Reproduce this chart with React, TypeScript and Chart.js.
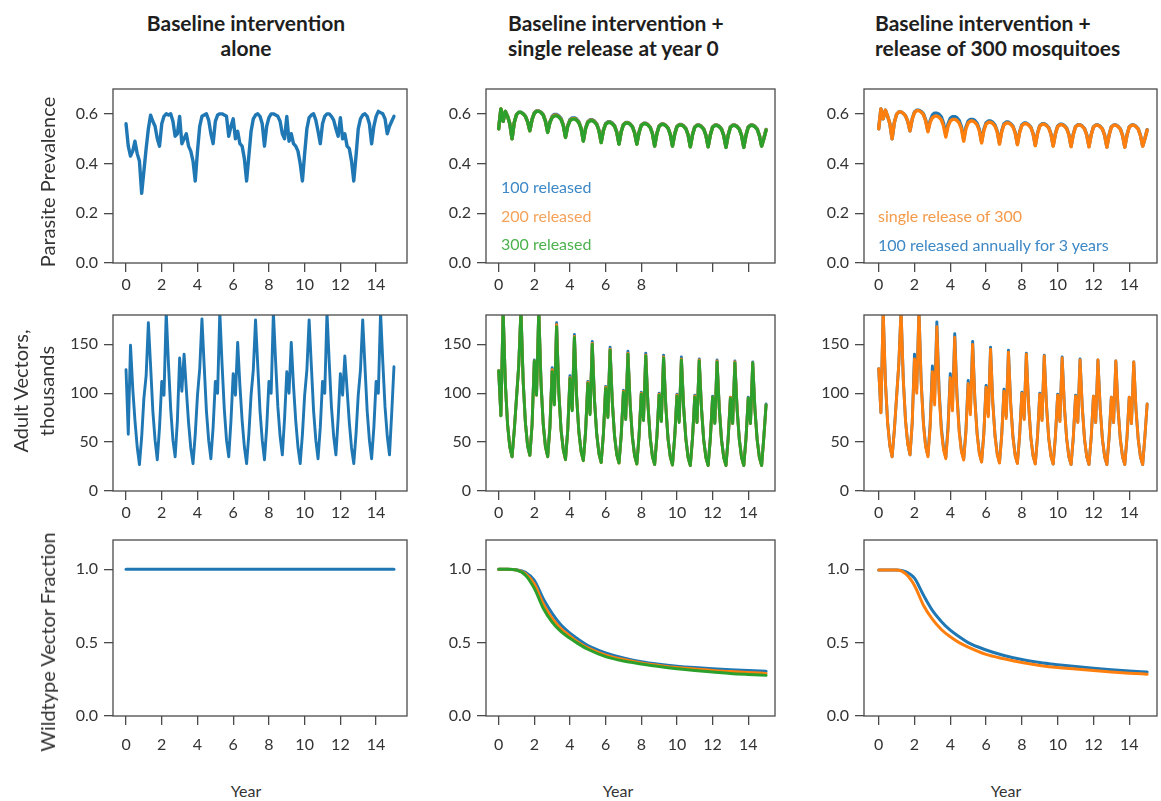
import React, { useEffect, useRef } from "react";
import { Chart, registerables } from "chart.js";

Chart.register(...registerables);

const BLUE = "#1f77b4";
const ORANGE = "#ff7f0e";
const GREEN = "#2ca02c";
const FRAME = "#4a4a4a";
const TEXT = "#333333";
const FONT = "Lato, 'Open Sans', sans-serif";

// ---------- categories / ticks ----------
const years = [
  0, 0.125, 0.25, 0.375, 0.5, 0.625, 0.75, 0.875,
  1, 1.125, 1.25, 1.375, 1.5, 1.625, 1.75, 1.875,
  2, 2.125, 2.25, 2.375, 2.5, 2.625, 2.75, 2.875,
  3, 3.125, 3.25, 3.375, 3.5, 3.625, 3.75, 3.875,
  4, 4.125, 4.25, 4.375, 4.5, 4.625, 4.75, 4.875,
  5, 5.125, 5.25, 5.375, 5.5, 5.625, 5.75, 5.875,
  6, 6.125, 6.25, 6.375, 6.5, 6.625, 6.75, 6.875,
  7, 7.125, 7.25, 7.375, 7.5, 7.625, 7.75, 7.875,
  8, 8.125, 8.25, 8.375, 8.5, 8.625, 8.75, 8.875,
  9, 9.125, 9.25, 9.375, 9.5, 9.625, 9.75, 9.875,
  10, 10.125, 10.25, 10.375, 10.5, 10.625, 10.75, 10.875,
  11, 11.125, 11.25, 11.375, 11.5, 11.625, 11.75, 11.875,
  12, 12.125, 12.25, 12.375, 12.5, 12.625, 12.75, 12.875,
  13, 13.125, 13.25, 13.375, 13.5, 13.625, 13.75, 13.875,
  14, 14.125, 14.25, 14.375, 14.5, 14.625, 14.75, 14.875,
  15,
];
const yearsFrac = [0, 0.5, 1, 1.5, 2, 2.5, 3, 3.5, 4, 4.5, 5, 6, 7, 8, 9, 10, 11, 12, 13, 14, 15];
const yearTicks = [0, 2, 4, 6, 8, 10, 12, 14];
const prevTicks = [0, 0.2, 0.4, 0.6];
const vecTicks = [0, 50, 100, 150];
const fracTicks = [0, 0.5, 1.0];

// ---------- row 1: parasite prevalence ----------
const prevBaseline = [
  0.56, 0.47, 0.43, 0.45, 0.49, 0.44, 0.41, 0.28,
  0.37, 0.46, 0.54, 0.595, 0.57, 0.55, 0.5, 0.47,
  0.56, 0.59, 0.6, 0.595, 0.6, 0.57, 0.51, 0.52,
  0.59, 0.48, 0.5, 0.52, 0.47, 0.45, 0.41, 0.33,
  0.45, 0.55, 0.59, 0.595, 0.6, 0.575, 0.52, 0.48,
  0.57, 0.595, 0.6, 0.6, 0.595, 0.59, 0.51, 0.55,
  0.58, 0.5, 0.53, 0.48, 0.47, 0.42, 0.33, 0.43,
  0.53, 0.58, 0.595, 0.6, 0.59, 0.56, 0.47, 0.55,
  0.585, 0.6, 0.6, 0.595, 0.59, 0.57, 0.52, 0.5,
  0.59, 0.49, 0.52, 0.48, 0.47, 0.45, 0.4, 0.33,
  0.44, 0.54, 0.585, 0.595, 0.6, 0.575, 0.53, 0.48,
  0.56, 0.59, 0.6, 0.6, 0.59, 0.575, 0.54, 0.51,
  0.585, 0.5, 0.52, 0.47, 0.46, 0.41, 0.33, 0.43,
  0.54, 0.58, 0.595, 0.6, 0.59, 0.56, 0.48, 0.55,
  0.59, 0.61, 0.605, 0.6, 0.58, 0.52, 0.55, 0.57,
  0.59,
];
const prev300 = [
  0.54, 0.62, 0.57, 0.61, 0.59, 0.56, 0.5, 0.565,
  0.597, 0.606, 0.606, 0.6, 0.59, 0.568, 0.532, 0.578,
  0.602, 0.61, 0.61, 0.605, 0.595, 0.57, 0.525, 0.565,
  0.585, 0.592, 0.592, 0.587, 0.577, 0.552, 0.505, 0.55,
  0.572, 0.579, 0.579, 0.574, 0.564, 0.54, 0.49, 0.54,
  0.565, 0.572, 0.572, 0.567, 0.557, 0.532, 0.484, 0.532,
  0.558, 0.565, 0.565, 0.56, 0.55, 0.525, 0.478, 0.528,
  0.556, 0.563, 0.563, 0.558, 0.548, 0.523, 0.478, 0.525,
  0.553, 0.56, 0.56, 0.555, 0.545, 0.52, 0.47, 0.52,
  0.55, 0.557, 0.557, 0.552, 0.542, 0.517, 0.47, 0.518,
  0.548, 0.555, 0.555, 0.55, 0.54, 0.515, 0.467, 0.516,
  0.546, 0.553, 0.553, 0.548, 0.538, 0.513, 0.467, 0.515,
  0.546, 0.553, 0.553, 0.548, 0.538, 0.512, 0.465, 0.514,
  0.546, 0.553, 0.553, 0.548, 0.538, 0.512, 0.465, 0.514,
  0.546, 0.553, 0.553, 0.548, 0.538, 0.512, 0.47, 0.5,
  0.535,
];
const prev200 = [
  0.54, 0.62, 0.57, 0.61, 0.59, 0.56, 0.5, 0.565,
  0.597, 0.606, 0.606, 0.6, 0.59, 0.568, 0.532, 0.578,
  0.603, 0.611, 0.611, 0.606, 0.596, 0.571, 0.526, 0.566,
  0.587, 0.595, 0.595, 0.589, 0.579, 0.554, 0.506, 0.552,
  0.574, 0.581, 0.581, 0.576, 0.566, 0.541, 0.491, 0.541,
  0.567, 0.574, 0.574, 0.569, 0.558, 0.533, 0.485, 0.533,
  0.559, 0.566, 0.566, 0.561, 0.551, 0.526, 0.479, 0.529,
  0.557, 0.564, 0.564, 0.559, 0.549, 0.524, 0.479, 0.526,
  0.554, 0.561, 0.561, 0.556, 0.546, 0.521, 0.471, 0.521,
  0.551, 0.558, 0.558, 0.553, 0.543, 0.518, 0.471, 0.519,
  0.549, 0.556, 0.556, 0.551, 0.541, 0.516, 0.468, 0.517,
  0.547, 0.554, 0.554, 0.549, 0.539, 0.514, 0.468, 0.516,
  0.547, 0.554, 0.554, 0.549, 0.539, 0.513, 0.466, 0.515,
  0.547, 0.554, 0.554, 0.549, 0.539, 0.513, 0.466, 0.515,
  0.547, 0.554, 0.554, 0.549, 0.539, 0.513, 0.471, 0.501,
  0.536,
];
const prev100 = [
  0.54, 0.62, 0.57, 0.61, 0.59, 0.56, 0.5, 0.565,
  0.597, 0.607, 0.607, 0.601, 0.591, 0.569, 0.533, 0.579,
  0.604, 0.612, 0.612, 0.607, 0.597, 0.572, 0.527, 0.568,
  0.59, 0.598, 0.598, 0.592, 0.582, 0.556, 0.508, 0.554,
  0.577, 0.584, 0.584, 0.579, 0.568, 0.543, 0.493, 0.543,
  0.569, 0.576, 0.576, 0.571, 0.56, 0.535, 0.487, 0.535,
  0.561, 0.568, 0.568, 0.563, 0.553, 0.528, 0.48, 0.53,
  0.558, 0.565, 0.565, 0.56, 0.55, 0.525, 0.48, 0.527,
  0.555, 0.562, 0.562, 0.557, 0.547, 0.522, 0.472, 0.522,
  0.552, 0.559, 0.559, 0.554, 0.544, 0.519, 0.472, 0.52,
  0.55, 0.557, 0.557, 0.552, 0.542, 0.517, 0.469, 0.518,
  0.548, 0.555, 0.555, 0.55, 0.54, 0.515, 0.469, 0.517,
  0.548, 0.555, 0.555, 0.55, 0.54, 0.514, 0.467, 0.516,
  0.548, 0.555, 0.555, 0.55, 0.54, 0.514, 0.467, 0.516,
  0.548, 0.555, 0.555, 0.55, 0.54, 0.514, 0.472, 0.502,
  0.537,
];
const prevSingle300 = [
  0.54, 0.62, 0.58, 0.615, 0.59, 0.56, 0.5, 0.565,
  0.598, 0.608, 0.608, 0.602, 0.592, 0.57, 0.532, 0.58,
  0.605, 0.613, 0.613, 0.607, 0.597, 0.572, 0.528, 0.566,
  0.584, 0.591, 0.591, 0.586, 0.576, 0.551, 0.507, 0.55,
  0.571, 0.578, 0.578, 0.573, 0.563, 0.539, 0.49, 0.54,
  0.564, 0.571, 0.571, 0.566, 0.556, 0.531, 0.483, 0.532,
  0.559, 0.566, 0.566, 0.561, 0.551, 0.526, 0.478, 0.528,
  0.556, 0.563, 0.563, 0.558, 0.548, 0.523, 0.476, 0.525,
  0.553, 0.56, 0.56, 0.555, 0.545, 0.52, 0.472, 0.521,
  0.551, 0.558, 0.558, 0.553, 0.543, 0.518, 0.47, 0.519,
  0.549, 0.556, 0.556, 0.551, 0.541, 0.516, 0.468, 0.517,
  0.548, 0.555, 0.555, 0.55, 0.54, 0.514, 0.467, 0.516,
  0.547, 0.554, 0.554, 0.549, 0.539, 0.513, 0.466, 0.515,
  0.547, 0.554, 0.554, 0.549, 0.539, 0.513, 0.466, 0.515,
  0.547, 0.554, 0.554, 0.549, 0.539, 0.513, 0.47, 0.5,
  0.535,
];
const prevAnnual100 = [
  0.54, 0.62, 0.58, 0.615, 0.59, 0.56, 0.5, 0.565,
  0.598, 0.608, 0.608, 0.602, 0.592, 0.57, 0.532, 0.58,
  0.607, 0.615, 0.615, 0.61, 0.6, 0.576, 0.532, 0.572,
  0.595, 0.603, 0.603, 0.598, 0.588, 0.562, 0.515, 0.56,
  0.582, 0.589, 0.589, 0.584, 0.573, 0.548, 0.497, 0.547,
  0.571, 0.578, 0.578, 0.573, 0.562, 0.537, 0.488, 0.537,
  0.564, 0.571, 0.571, 0.566, 0.555, 0.53, 0.482, 0.532,
  0.56, 0.567, 0.567, 0.561, 0.551, 0.526, 0.479, 0.528,
  0.556, 0.563, 0.563, 0.557, 0.547, 0.522, 0.474, 0.523,
  0.553, 0.56, 0.56, 0.555, 0.545, 0.52, 0.472, 0.521,
  0.551, 0.558, 0.558, 0.553, 0.543, 0.518, 0.47, 0.519,
  0.549, 0.556, 0.556, 0.551, 0.541, 0.516, 0.469, 0.517,
  0.548, 0.555, 0.555, 0.55, 0.54, 0.514, 0.467, 0.516,
  0.548, 0.555, 0.555, 0.55, 0.54, 0.514, 0.467, 0.516,
  0.548, 0.555, 0.555, 0.55, 0.54, 0.514, 0.471, 0.501,
  0.536,
];

// ---------- row 2: adult vectors (thousands) ----------
const vecBaseline = [
  124, 58, 149, 105, 72, 45, 27, 55,
  95, 118, 172, 128, 82, 52, 32, 65,
  112, 98, 183, 130, 84, 52, 35, 72,
  136, 102, 140, 104, 70, 44, 28, 58,
  98, 125, 176, 128, 82, 52, 33, 65,
  112, 100, 183, 130, 84, 52, 35, 72,
  120, 98, 152, 108, 72, 45, 28, 58,
  98, 124, 175, 128, 82, 52, 32, 65,
  112, 100, 183, 132, 86, 56, 37, 74,
  122, 100, 152, 108, 72, 45, 28, 58,
  98, 124, 175, 128, 82, 52, 33, 65,
  112, 100, 183, 132, 86, 56, 37, 74,
  120, 98, 138, 104, 70, 44, 28, 58,
  98, 124, 175, 128, 82, 52, 33, 65,
  112, 100, 183, 132, 86, 56, 37, 80,
  127,
];
const vec300 = [
  123, 77, 185, 110, 68, 45, 35, 62,
  95, 128, 185, 112, 70, 46, 36.5, 68,
  133, 98, 185, 110, 68, 45, 35, 65,
  122, 88, 168, 100, 62, 42, 32, 62,
  115, 82, 157, 95, 60, 40, 31, 60,
  110, 78, 150, 92, 58, 38, 29, 58,
  105, 75, 144, 90, 56, 37, 28.5, 57,
  101, 73, 140, 88, 55, 36, 27.5, 56,
  99, 72, 138, 87, 54, 35, 27, 55,
  98, 71, 136, 86, 53, 35, 26.5, 55,
  97, 70, 134, 85, 53, 34, 26, 54,
  96, 70, 133, 84, 52, 34, 26, 54,
  96, 69, 132, 84, 52, 34, 26, 54,
  95, 69, 131, 83, 52, 34, 26, 54,
  95, 69, 131, 83, 52, 34, 26, 55,
  88,
];
const vec200 = [
  123, 77, 185, 110, 68, 45, 35, 62,
  95, 128, 185, 112, 70, 46, 36.5, 68,
  133, 98, 185, 111, 68, 45, 35, 65,
  124, 89, 170, 101, 62, 42, 32, 62,
  116, 83, 158, 96, 60, 40, 31, 60,
  111, 79, 151, 93, 58, 38, 29, 58,
  106, 76, 145, 91, 56, 37, 28.5, 57,
  102, 74, 141, 89, 55, 36, 27.5, 56,
  100, 73, 139, 88, 54, 35, 27, 55,
  99, 72, 137, 87, 53, 35, 26.5, 55,
  98, 71, 135, 86, 53, 34, 26, 54,
  97, 70, 134, 85, 52, 34, 26, 54,
  96, 70, 133, 84, 52, 34, 26, 54,
  96, 69, 132, 84, 52, 34, 26, 54,
  95, 69, 131, 83, 52, 34, 26, 55,
  88,
];
const vec100 = [
  123, 77, 185, 110, 68, 45, 35, 62,
  95, 128, 186, 113, 70, 46, 36.5, 68,
  134, 99, 186, 112, 69, 46, 35.5, 66,
  126, 90, 172, 102, 63, 43, 32.5, 63,
  118, 84, 160, 97, 61, 41, 31.5, 61,
  112, 80, 153, 94, 59, 39, 29.5, 59,
  107, 77, 147, 92, 57, 38, 29, 58,
  103, 75, 143, 90, 56, 37, 28, 57,
  101, 74, 141, 89, 55, 36, 27.5, 56,
  100, 73, 139, 88, 54, 36, 27, 56,
  99, 72, 137, 87, 54, 35, 26.5, 55,
  98, 71, 135, 86, 53, 35, 26.5, 55,
  97, 70, 134, 85, 53, 35, 26.5, 55,
  96, 70, 133, 84, 53, 35, 26.5, 55,
  96, 70, 132, 84, 53, 35, 26.5, 56,
  89,
];
const vecSingle300 = [
  125, 80, 185, 112, 70, 46, 35, 62,
  96, 130, 185, 114, 72, 48, 37, 70,
  135, 100, 185, 110, 68, 45, 35, 65,
  122, 88, 168, 100, 62, 42, 33, 62,
  116, 82, 157, 96, 60, 40, 31.7, 60,
  110, 78, 150, 92, 58, 38, 29.5, 58,
  106, 76, 145, 90, 56, 37, 28.6, 57,
  102, 74, 142, 89, 55, 36, 28, 57,
  100, 73, 140, 88, 55, 36, 27.5, 56,
  99, 72, 138, 87, 54, 35, 27.5, 56,
  98, 71, 136, 86, 54, 35, 27, 55,
  97, 70, 134, 85, 53, 35, 27, 55,
  97, 70, 134, 85, 53, 35, 27, 55,
  96, 70, 133, 84, 53, 35, 27, 55,
  96, 69, 132, 84, 53, 35, 27, 56,
  89,
];
const vecAnnual100 = [
  125, 80, 185, 112, 70, 46, 35, 62,
  96, 130, 185, 114, 72, 48, 37, 70,
  140, 104, 185, 112, 70, 46, 36, 68,
  128, 95, 173, 104, 65, 44, 34, 66,
  120, 88, 161, 99, 62, 41, 32.5, 62,
  113, 82, 153, 94, 59, 39, 30, 59,
  108, 78, 147, 91, 57, 38, 29, 58,
  104, 76, 144, 90, 56, 37, 28.5, 57,
  101, 74, 141, 89, 55, 36, 28, 56,
  100, 73, 139, 88, 54, 36, 27.5, 56,
  99, 72, 137, 87, 54, 35, 27, 55,
  98, 71, 135, 86, 53, 35, 27, 55,
  97, 70, 134, 85, 53, 35, 27, 55,
  96, 70, 133, 84, 53, 35, 27, 55,
  96, 69, 132, 84, 53, 35, 27, 56,
  89,
];

// ---------- row 3: wildtype vector fraction ----------
const fracBaseline = [1, 1, 1, 1, 1, 1, 1, 1, 1, 1, 1, 1, 1, 1, 1, 1, 1, 1, 1, 1, 1];
const frac100 = [1.0, 1.0, 0.997, 0.98, 0.925, 0.8, 0.7, 0.62, 0.565, 0.52, 0.48, 0.43, 0.395, 0.37, 0.353, 0.34, 0.33, 0.322, 0.315, 0.31, 0.305];
const frac200 = [1.0, 1.0, 0.996, 0.97, 0.9, 0.765, 0.665, 0.595, 0.545, 0.5, 0.465, 0.415, 0.385, 0.362, 0.345, 0.33, 0.32, 0.31, 0.303, 0.297, 0.29];
const frac300 = [1.0, 1.0, 0.995, 0.96, 0.87, 0.735, 0.64, 0.575, 0.53, 0.49, 0.455, 0.405, 0.375, 0.355, 0.337, 0.322, 0.31, 0.3, 0.29, 0.283, 0.277];
const fracSingle300 = [0.995, 0.995, 0.995, 0.97, 0.89, 0.755, 0.66, 0.59, 0.54, 0.5, 0.47, 0.42, 0.39, 0.365, 0.345, 0.33, 0.32, 0.31, 0.3, 0.292, 0.285];
const fracAnnual100 = [0.995, 0.995, 0.995, 0.985, 0.94, 0.825, 0.72, 0.645, 0.585, 0.54, 0.5, 0.45, 0.413, 0.385, 0.365, 0.35, 0.337, 0.325, 0.315, 0.307, 0.3];

// ---------- layout ----------
const YW = 75; // y-axis band width
const XH = 45; // x-axis band height
const PADT = 6;
const PADR = 6;

const COLS = [
  { L: 113, R: 407, xMin: -0.73, xMax: 15.73 },
  { L: 486, R: 775, xMin: -0.71, xMax: 15.5 },
  { L: 864, R: 1157, xMin: -0.82, xMax: 15.55 },
];
const ROWS = [
  { T: 89, B: 263, yMax: 0.7, ticks: prevTicks, dec: 1, xPad: 3 },
  { T: 315, B: 491, yMax: 180, ticks: vecTicks, dec: 0, xPad: 3 },
  { T: 540, B: 716, yMax: 1.2, ticks: fracTicks, dec: 1, xPad: 10 },
];

const framePlugin = {
  id: "frameBox",
  afterDraw(chart: any) {
    const { ctx, chartArea: a } = chart;
    ctx.save();
    ctx.strokeStyle = FRAME;
    ctx.lineWidth = 1.3;
    ctx.strokeRect(a.left, a.top, a.right - a.left, a.bottom - a.top);
    ctx.restore();
  },
};

type Series = { xs: number[]; ys: number[]; color: string; width: number; smooth?: boolean };

function Panel({ col, row, series, xLabelMax }: { col: number; row: number; series: Series[]; xLabelMax?: number }) {
  const ref = useRef<HTMLCanvasElement>(null);
  const c = COLS[col];
  const r = ROWS[row];
  const W = c.R - c.L + YW + PADR;
  const H = r.B - r.T + PADT + XH;

  useEffect(() => {
    const tickFont = { family: FONT, size: 16 };
    const chart = new Chart(ref.current as HTMLCanvasElement, {
      type: "line",
      data: {
        datasets: series.map((s) => ({
          data: s.xs.map((x, i) => ({ x, y: s.ys[i] })),
          borderColor: s.color,
          backgroundColor: s.color,
          borderWidth: s.width,
          pointRadius: 0,
          pointHoverRadius: 0,
          fill: false,
          tension: 0,
          cubicInterpolationMode: s.smooth ? "monotone" : "default",
          borderJoinStyle: "round",
          borderCapStyle: "round",
        })),
      },
      options: {
        animation: false,
        responsive: false,
        events: [],
        layout: { padding: { top: PADT, right: PADR, left: 0, bottom: 0 } },
        plugins: {
          legend: { display: false },
          tooltip: { enabled: false },
          title: { display: false },
        },
        scales: {
          x: {
            type: "linear",
            min: c.xMin,
            max: c.xMax,
            afterFit: (s: any) => {
              s.height = XH;
              s.paddingLeft = 0;
              s.paddingRight = 0;
            },
            afterBuildTicks: (s: any) => {
              s.ticks = yearTicks.map((v) => ({ value: v }));
            },
            grid: { drawOnChartArea: false, drawTicks: true, tickLength: 9, color: FRAME, lineWidth: 1.3 },
            border: { display: false },
            ticks: {
              padding: r.xPad,
              color: TEXT,
              font: tickFont,
              autoSkip: false,
              maxRotation: 0,
              minRotation: 0,
              callback: (v: any) => (xLabelMax !== undefined && Number(v) > xLabelMax ? "" : String(v)),
            },
          },
          y: {
            type: "linear",
            min: 0,
            max: r.yMax,
            afterFit: (s: any) => {
              s.width = YW;
              s.paddingTop = 0;
              s.paddingBottom = 0;
            },
            afterBuildTicks: (s: any) => {
              s.ticks = r.ticks.map((v) => ({ value: v }));
            },
            grid: { drawOnChartArea: false, drawTicks: true, tickLength: 9, color: FRAME, lineWidth: 1.3 },
            border: { display: false },
            ticks: {
              padding: 6,
              color: TEXT,
              font: tickFont,
              callback: (v: any) => Number(v).toFixed(r.dec),
            },
          },
        },
      } as any,
      plugins: [framePlugin as any],
    });
    return () => chart.destroy();
  }, []);

  return (
    <canvas
      ref={ref}
      width={W}
      height={H}
      style={{ position: "absolute", left: c.L - YW, top: r.T - PADT, width: W, height: H }}
    />
  );
}

const abs = (extra: React.CSSProperties): React.CSSProperties => ({
  position: "absolute",
  whiteSpace: "nowrap",
  ...extra,
});

const titleStyle: React.CSSProperties = { fontWeight: 700, fontSize: 21, lineHeight: "25px", color: "#1e1e1e" };

export default function App() {
  const lw = 3.4;
  const vw = 2.9;
  const fw = 3;
  return (
    <div
      style={{
        position: "absolute",
        left: 0,
        top: 0,
        width: 1161,
        height: 801,
        background: "#ffffff",
        overflow: "hidden",
        fontFamily: FONT,
        color: TEXT,
      }}
    >
      {/* row 1 */}
      <Panel col={0} row={0} series={[{ xs: years, ys: prevBaseline, color: BLUE, width: lw }]} />
      <Panel
        col={1}
        row={0}
        xLabelMax={8}
        series={[
          { xs: years, ys: prev300, color: GREEN, width: lw },
          { xs: years, ys: prev200, color: ORANGE, width: lw },
          { xs: years, ys: prev100, color: BLUE, width: lw },
        ]}
      />
      <Panel
        col={2}
        row={0}
        series={[
          { xs: years, ys: prevSingle300, color: ORANGE, width: lw },
          { xs: years, ys: prevAnnual100, color: BLUE, width: lw },
        ]}
      />
      {/* row 2 */}
      <Panel col={0} row={1} series={[{ xs: years, ys: vecBaseline, color: BLUE, width: vw }]} />
      <Panel
        col={1}
        row={1}
        series={[
          { xs: years, ys: vec300, color: GREEN, width: vw },
          { xs: years, ys: vec200, color: ORANGE, width: vw },
          { xs: years, ys: vec100, color: BLUE, width: vw },
        ]}
      />
      <Panel
        col={2}
        row={1}
        series={[
          { xs: years, ys: vecSingle300, color: ORANGE, width: vw },
          { xs: years, ys: vecAnnual100, color: BLUE, width: vw },
        ]}
      />
      {/* row 3 */}
      <Panel col={0} row={2} series={[{ xs: yearsFrac, ys: fracBaseline, color: BLUE, width: fw }]} />
      <Panel
        col={1}
        row={2}
        series={[
          { xs: yearsFrac, ys: frac300, color: GREEN, width: fw, smooth: true },
          { xs: yearsFrac, ys: frac200, color: ORANGE, width: fw, smooth: true },
          { xs: yearsFrac, ys: frac100, color: BLUE, width: fw, smooth: true },
        ]}
      />
      <Panel
        col={2}
        row={2}
        series={[
          { xs: yearsFrac, ys: fracSingle300, color: ORANGE, width: fw, smooth: true },
          { xs: yearsFrac, ys: fracAnnual100, color: BLUE, width: fw, smooth: true },
        ]}
      />

      {/* column titles */}
      <div style={abs({ ...titleStyle, left: 246, top: 10, transform: "translateX(-50%)", textAlign: "center" })}>
        Baseline intervention
        <br />
        alone
      </div>
      <div style={abs({ ...titleStyle, left: 508, top: 10 })}>
        Baseline intervention +
        <br />
        single release at year 0
      </div>
      <div style={abs({ ...titleStyle, left: 875, top: 10 })}>
        Baseline intervention +
        <br />
        release of 300 mosquitoes
      </div>

      {/* y-axis titles */}
      <div style={abs({ left: 47, top: 182, transform: "translate(-50%, -50%) rotate(-90deg)", fontSize: 20, lineHeight: "22px" })}>
        Parasite Prevalence
      </div>
      <div style={abs({ left: 33, top: 391, transform: "translate(-50%, -50%) rotate(-90deg)", fontSize: 20, lineHeight: "26px", textAlign: "center" })}>
        Adult Vectors,
        <br />
        thousands
      </div>
      <div style={abs({ left: 47, top: 642, transform: "translate(-50%, -50%) rotate(-90deg)", fontSize: 20, lineHeight: "22px" })}>
        Wildtype Vector Fraction
      </div>

      {/* x-axis titles */}
      {[246, 618, 1006].map((cx) => (
        <div key={cx} style={abs({ left: cx, top: 791, transform: "translate(-50%, -50%)", fontSize: 16, lineHeight: "20px" })}>
          Year
        </div>
      ))}

      {/* in-panel legends */}
      <div style={abs({ left: 501, top: 177, fontSize: 16, lineHeight: "19px", color: "#3d88c5" })}>100 released</div>
      <div style={abs({ left: 501, top: 206, fontSize: 16, lineHeight: "19px", color: "#f5a25a" })}>200 released</div>
      <div style={abs({ left: 501, top: 234, fontSize: 16, lineHeight: "19px", color: "#4db24d" })}>300 released</div>
      <div style={abs({ left: 878, top: 206, fontSize: 16, lineHeight: "19px", color: "#f59a4a" })}>single release of 300</div>
      <div style={abs({ left: 878, top: 235, fontSize: 16, lineHeight: "19px", color: "#3d88c5" })}>100 released annually for 3 years</div>
    </div>
  );
}
